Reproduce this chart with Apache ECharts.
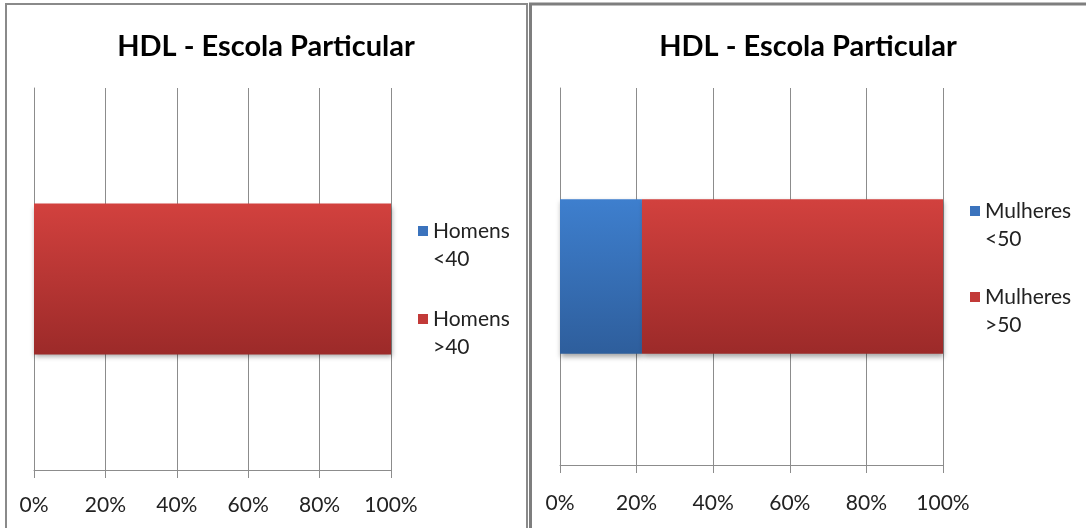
<!DOCTYPE html>
<html>
<head>
<meta charset="utf-8">
<script src="https://cdn.jsdelivr.net/npm/echarts@6/dist/echarts.min.js"></script>
<style>
  html, body { margin: 0; padding: 0; background: #fff; }
  #chart { width: 1086px; height: 528px; }
</style>
</head>
<body>
<div id="chart"></div>
<script>
// HDL results, private school: share of each group (percent)
const titleText = 'HDL - Escola Particular';
const categories = [''];
const homensNames = ['Homens <40', 'Homens >40'];
const homensValues = [0, 100];
const mulheresNames = ['Mulheres <50', 'Mulheres >50'];
const mulheresValues = [21.4, 78.6];

const FONT = 'Lato, "Liberation Sans", sans-serif';
const GRID_GRAY = '#8c8c8c';

function grad(top, bottom) {
  return new echarts.graphic.LinearGradient(0, 0, 0, 1, [
    { offset: 0, color: top },
    { offset: 1, color: bottom }
  ]);
}
const blueFill = grad('#3e7fce', '#2e5e9c');
const redFill = grad('#d2413e', '#9c2a29');
const barShadow = {
  shadowColor: 'rgba(0,0,0,0.35)',
  shadowBlur: 5,
  shadowOffsetX: 1,
  shadowOffsetY: 3
};

// square on the first text line of a two-line legend entry
const legendIcon = 'path://M0,0L0,0.01M0,9L10,9L10,19L0,19ZM0,56L0,55.99';

function xAxisFor(gridIndex, labelMargin) {
  return {
    gridIndex: gridIndex,
    type: 'value',
    min: 0,
    max: 100,
    interval: 20,
    axisLine: { show: true, lineStyle: { color: GRID_GRAY, width: 1 } },
    axisTick: { show: true, length: 8, lineStyle: { color: GRID_GRAY } },
    splitLine: { show: true, lineStyle: { color: GRID_GRAY, width: 1 } },
    axisLabel: {
      formatter: '{value}%',
      fontFamily: FONT,
      fontSize: 21,
      color: '#222',
      margin: labelMargin
    }
  };
}
function yAxisFor(gridIndex) {
  return {
    gridIndex: gridIndex,
    type: 'category',
    data: categories,
    axisLine: { show: true, lineStyle: { color: GRID_GRAY, width: 1 } },
    axisTick: { show: false },
    axisLabel: { show: false },
    splitLine: { show: false }
  };
}
function legendFor(names, left, top, gap) {
  return {
    orient: 'vertical',
    left: left,
    top: top,
    itemWidth: 10,
    itemHeight: 56,
    itemGap: gap,
    icon: legendIcon,
    data: [
      { name: names[0], itemStyle: { color: '#3b73bd' } },
      { name: names[1], itemStyle: { color: '#c23a38' } }
    ],
    formatter: function (n) { return n.replace(' ', '\n'); },
    textStyle: { fontFamily: FONT, fontSize: 21, lineHeight: 28, color: '#222' },
    selectedMode: false
  };
}
function barSeries(name, value, fill, axisIndex, width) {
  return {
    name: name,
    type: 'bar',
    stack: 'total' + axisIndex,
    xAxisIndex: axisIndex,
    yAxisIndex: axisIndex,
    barWidth: width,
    data: [value],
    itemStyle: Object.assign({ color: fill }, barShadow),
    emphasis: { disabled: true }
  };
}

const chart = echarts.init(document.getElementById('chart'), null, { renderer: 'canvas' });
chart.setOption({
  animation: false,
  backgroundColor: '#fff',
  title: [
    {
      text: titleText, left: 261, top: 27, textAlign: 'center',
      textStyle: { fontFamily: FONT, fontWeight: 'bold', fontSize: 29, color: '#000' }
    },
    {
      text: titleText, left: 803, top: 27, textAlign: 'center',
      textStyle: { fontFamily: FONT, fontWeight: 'bold', fontSize: 29, color: '#000' }
    }
  ],
  legend: [
    legendFor(homensNames, 413, 212, 32),
    legendFor(mulheresNames, 965, 192, 30)
  ],
  grid: [
    { left: 34, right: 1086 - 391, top: 88, bottom: 528 - 470, containLabel: false },
    { left: 560, right: 1086 - 943, top: 88, bottom: 528 - 465, containLabel: false }
  ],
  xAxis: [xAxisFor(0, 25), xAxisFor(1, 28)],
  yAxis: [yAxisFor(0), yAxisFor(1)],
  series: [
    barSeries(homensNames[0], homensValues[0], blueFill, 0, '39.5%'),
    barSeries(homensNames[1], homensValues[1], redFill, 0, '39.5%'),
    barSeries(mulheresNames[0], mulheresValues[0], blueFill, 1, '41%'),
    barSeries(mulheresNames[1], mulheresValues[1], redFill, 1, '41%')
  ],
  graphic: [
    {
      type: 'rect', silent: true, z: 100,
      shape: { x: 6, y: 4, width: 521, height: 560 },
      style: { fill: 'none', stroke: '#8a8a8a', lineWidth: 2 }
    },
    {
      type: 'rect', silent: true, z: 100,
      shape: { x: 530.5, y: 4, width: 600, height: 560 },
      style: { fill: 'none', stroke: '#7e7e7e', lineWidth: 3 }
    }
  ]
});
</script>
</body>
</html>
